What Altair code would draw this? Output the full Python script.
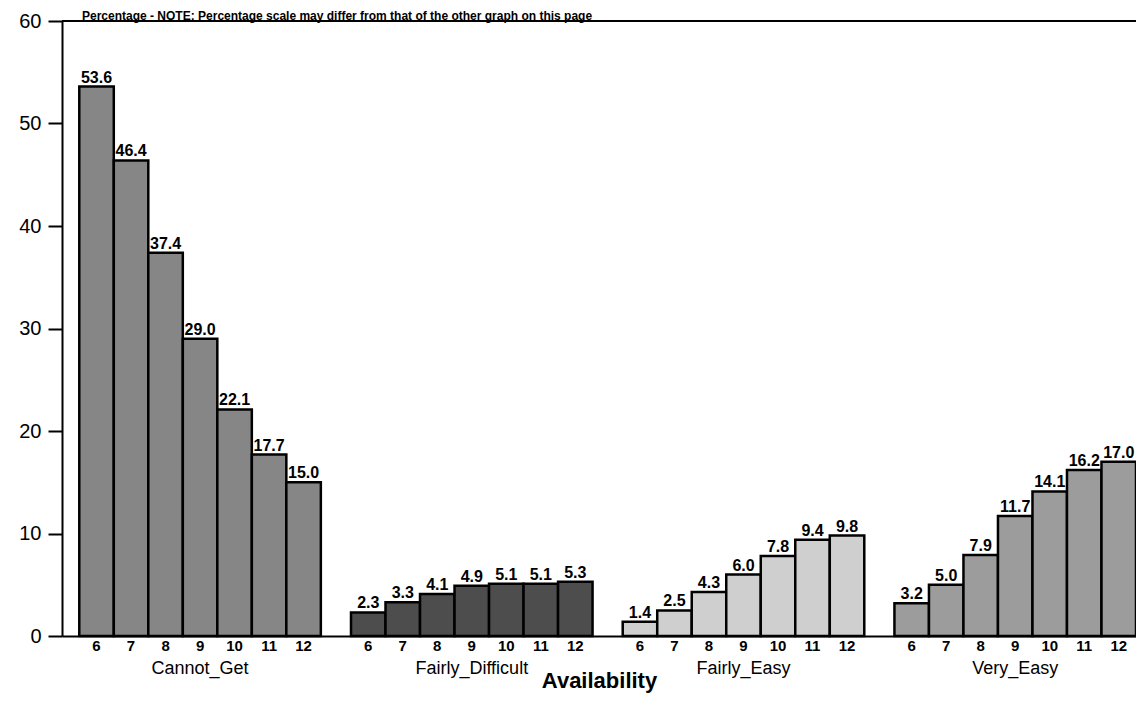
import altair as alt
import pandas as pd

groups = ["Cannot_Get", "Fairly_Difficult", "Fairly_Easy", "Very_Easy"]
ages = [6, 7, 8, 9, 10, 11, 12]
cannot_get = [53.6, 46.4, 37.4, 29.0, 22.1, 17.7, 15.0]
fairly_difficult = [2.3, 3.3, 4.1, 4.9, 5.1, 5.1, 5.3]
fairly_easy = [1.4, 2.5, 4.3, 6.0, 7.8, 9.4, 9.8]
very_easy = [3.2, 5.0, 7.9, 11.7, 14.1, 16.2, 17.0]
fills = ["#868686", "#4d4d4d", "#cfcfcf", "#9c9c9c"]
y_ticks = [0, 10, 20, 30, 40, 50, 60]
title_text = "Percentage - NOTE: Percentage scale may differ from that of the other graph on this page"

rows = []
for g, vals in zip(groups, [cannot_get, fairly_difficult, fairly_easy, very_easy]):
    for a, v in zip(ages, vals):
        rows.append({"group": g, "age": a, "value": v, "label": f"{v:.1f}"})
df = pd.DataFrame(rows)

FONT = "Liberation Sans"

base = alt.Chart(df).encode(
    x=alt.X(
        "group:N",
        sort=groups,
        scale=alt.Scale(paddingInner=0.111, paddingOuter=0.0318, align=1),
        axis=alt.Axis(
            ticks=False,
            labelPadding=23,
            labelFontSize=18,
            labelFont=FONT,
            labelColor="black",
            labelAngle=0,
            domainColor="black",
            domainWidth=2,
            title="Availability",
            titleFont=FONT,
            titleFontSize=22,
            titleFontWeight="bold",
            titleColor="black",
            titleY=51,
            titleBaseline="alphabetic",
        ),
    ),
    xOffset=alt.XOffset("age:O", sort=ages, scale=alt.Scale(paddingInner=0, paddingOuter=0)),
)

bars = base.mark_bar(stroke="black", strokeWidth=2.5).encode(
    y=alt.Y(
        "value:Q",
        scale=alt.Scale(domain=[0, 60], nice=False),
        axis=alt.Axis(
            values=y_ticks,
            tickSize=14,
            tickWidth=2,
            tickColor="black",
            domainColor="black",
            domainWidth=2,
            labelFontSize=20,
            labelFont=FONT,
            labelColor="black",
            labelPadding=7,
            grid=False,
            title=None,
        ),
    ),
    fill=alt.Fill("group:N", scale=alt.Scale(domain=groups, range=fills), legend=None),
)

value_labels = base.mark_text(
    baseline="bottom", dy=-1, fontSize=16, fontWeight="bold", font=FONT, color="black"
).encode(y="value:Q", text="label:N")

age_labels = base.mark_text(
    baseline="middle", fontSize=15, fontWeight="bold", font=FONT, color="black"
).encode(y=alt.value(625), text="age:O")

top_rule = alt.Chart(pd.DataFrame({"top": [60]})).mark_rule(
    color="black", strokeWidth=2
).encode(y=alt.Y("top:Q"))

title_layer = alt.Chart(pd.DataFrame({"t": [title_text]})).mark_text(
    align="left", baseline="alphabetic", fontSize=12, fontWeight="bold", font=FONT, color="black"
).encode(x=alt.value(20), y=alt.value(-1.5), text="t:N")

chart = (
    alt.layer(bars, value_labels, age_labels, top_rule, title_layer)
    .properties(
        width=1074,
        height=615,
        autosize=alt.AutoSizeParams(type="none"),
        padding={"left": 54, "top": 13, "right": 0, "bottom": 61},
        background="white",
    )
    .configure_view(stroke=None)
)

chart.save("out.html", embed_options={"renderer": "svg", "actions": False})
